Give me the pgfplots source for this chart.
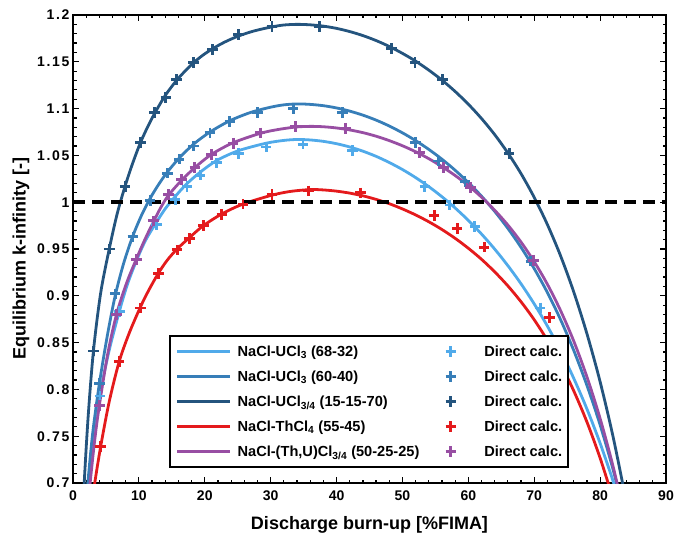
\documentclass[border=0pt]{standalone}
\usepackage{fontspec}
\setmainfont{Liberation Sans}
\newfontfamily\ytickfont[LetterSpace=12]{Liberation Sans}
\usepackage{pgfplots}
\pgfplotsset{compat=1.18}

\definecolor{cL}{RGB}{80,170,234}
\definecolor{cM}{RGB}{55,126,184}
\definecolor{cN}{RGB}{36,84,126}
\definecolor{cR}{RGB}{228,26,28}
\definecolor{cP}{RGB}{152,78,163}

\pgfplotsset{
  fit/.style={line width=2.8pt, no marks, smooth,
    legend image code/.code={\draw[##1] (0pt,0pt) -- (53pt,0pt); \path (59pt,0pt);}},
  calc/.style={only marks, mark=+, mark size=5.3pt, line width=2.9pt,
    legend image code/.code={\path (0pt,0pt) (50pt,0pt); \draw[##1] plot coordinates {(18pt,0pt)};}},
}

\begin{document}
\begin{tikzpicture}
\begin{axis}[
  name=ax,
  width=593pt, height=468pt, scale only axis,
  xmin=0, xmax=90, ymin=0.7, ymax=1.2,
  xtick={0,10,...,90},
  ytick={0.7,0.75,0.8,0.85,0.9,0.95,1,1.05,1.1,1.15,1.2},
  minor x tick num=4, minor y tick num=4,
  tick align=inside,
  major tick length=6pt, minor tick length=3.5pt,
  tick style={black, line width=1.2pt},
  axis line style={line width=1.6pt},
  /pgf/number format/assume math mode=true,
  xticklabel style={font=\fontsize{14}{16}\selectfont\bfseries, yshift=-4pt},
  yticklabel style={font=\fontsize{14}{16}\selectfont\ytickfont\bfseries},
  xlabel={Discharge burn-up [\%FIMA]},
  ylabel={Equilibrium k-infinity [-]},
  xlabel style={font=\fontsize{18}{20}\selectfont\bfseries,
    at={(axis description cs:0.5,0)}, anchor=base, yshift=-46.5pt},
  ylabel style={font=\fontsize{18}{20}\selectfont\bfseries,
    at={(axis description cs:-0.0877,0.48)}, anchor=center},
  legend columns=2,
  legend cell align=left,
  legend style={at={(axis description cs:0.1619,0.032)}, anchor=south west,
    draw=black, line width=1.6pt, inner xsep=6pt, inner ysep=7.5pt,
    row sep=9pt,
    font=\fontsize{14.6}{16}\selectfont\bfseries,
    nodes={inner sep=0pt, text height=13pt, text depth=3pt},
    /tikz/every even column/.append style={column sep=12pt}},
]
% NaCl-UCl3 (68-32)
\addplot[fit, cL] coordinates {
(2.0,0.67) (2.4,0.70) (3.2,0.751) (4.1,0.795) (5.5,0.842) (7.1,0.885) (8.3,0.913)
(9.6,0.937) (11,0.959) (12.7,0.979) (14,0.993) (15.5,1.006) (17.25,1.0195) (19.3,1.032)
(21.8,1.0445) (25.1,1.055) (29.3,1.063) (32,1.066) (34,1.067) (36,1.0665) (38,1.065)
(40,1.0625) (42,1.059) (44,1.0545) (46,1.049) (48,1.0424) (50,1.0349) (52,1.0263)
(54,1.0166) (56,1.0058) (58,0.9938) (60,0.9806) (62,0.966) (64,0.9499) (66,0.9322)
(68,0.9128) (70,0.8913) (72,0.8676) (74,0.8412) (76,0.8118) (78,0.7791) (80,0.7425)
(82,0.7013) (84,0.6553)};
\addlegendentry{NaCl-UCl\textsubscript{3} (68-32)}
\addplot[calc, cL] coordinates {
(4.1,0.793) (7.1,0.883) (9.6,0.939) (12.7,0.976) (15.5,1.003) (17.3,1.017) (19.3,1.029)
(21.8,1.042) (25.1,1.052) (29.3,1.059) (34.9,1.062) (42.4,1.055) (53.4,1.017) (57.2,0.997)
(61.0,0.974) (70.9,0.887)};
\addlegendentry{Direct calc.}
% NaCl-UCl3 (60-40)
\addplot[fit, cM] coordinates {
(1.9,0.67) (2.25,0.70) (3.0,0.754) (4.0,0.806) (5.2,0.857) (6.4,0.900) (7.7,0.935)
(9.06,0.9635) (10.4,0.986) (11.7,1.004) (13,1.019) (14.3,1.032) (16.1,1.047) (18.3,1.062)
(20.8,1.075) (23.8,1.087) (27,1.096) (30,1.1015) (32,1.104) (34,1.105) (36,1.1045)
(38,1.1031) (40,1.1007) (42,1.0973) (44,1.0930) (46,1.0877) (48,1.0814) (50,1.0741)
(52,1.0658) (54,1.0564) (56,1.0459) (58,1.0341) (60,1.0210) (62,1.0064) (64,0.9902)
(66,0.9720) (68,0.9518) (70,0.9290) (72,0.9035) (74,0.8745) (76,0.8416) (78,0.8043)
(80,0.7621) (82,0.7135) (84,0.658)};
\addlegendentry{NaCl-UCl\textsubscript{3} (60-40)}
\addplot[calc, cM] coordinates {
(4.0,0.806) (6.4,0.902) (9.1,0.963) (11.7,1.002) (14.3,1.031) (16.1,1.046) (18.3,1.060)
(20.8,1.074) (23.8,1.086) (28.0,1.096) (33.4,1.100) (40.9,1.096) (52.0,1.064) (55.5,1.044)
(59.5,1.022) (69.5,0.937)};
\addlegendentry{Direct calc.}
% NaCl-UCl3/4 (15-15-70)
\addplot[fit, cN] coordinates {
(1.4,0.653) (1.7,0.700) (2.3,0.771) (3.1,0.841) (4.2,0.903) (5.5,0.950) (6.7,0.9875)
(7.9,1.017) (9,1.0405) (10.2,1.063) (11.3,1.080) (12.4,1.095) (14,1.114) (15.7,1.130)
(17,1.140) (18.3,1.149) (19.7,1.157) (21.2,1.164) (23,1.171) (25.1,1.1775) (27.5,1.1830)
(30.2,1.1873) (32,1.1893) (34,1.190) (36,1.1895) (38,1.1881) (40,1.1857) (42,1.1823)
(44,1.1780) (46,1.1727) (48,1.1664) (50,1.1590) (52,1.1507) (54,1.1411) (56,1.1304)
(58,1.1183) (60,1.1047) (62,1.0894) (64,1.0722) (66,1.0526) (68,1.0305) (70,1.0051)
(72,0.9761) (74,0.9427) (76,0.9041) (78,0.8595) (80,0.8082) (82,0.7484) (84,0.6791)};
\addlegendentry{NaCl-UCl\textsubscript{3/4} (15-15-70)}
\addplot[calc, cN] coordinates {
(3.1,0.841) (5.5,0.950) (7.9,1.017) (10.2,1.064) (12.4,1.096) (14.1,1.112) (15.7,1.131)
(18.3,1.149) (21.2,1.163) (25.1,1.179) (30.2,1.188) (37.4,1.188) (48.3,1.164) (51.9,1.149)
(56.1,1.131) (66.2,1.052)};
\addlegendentry{Direct calc.}
% NaCl-ThCl4 (55-45)
\addplot[fit, cR] coordinates {
(2.8,0.674) (3.3,0.70) (4.2,0.739) (5.5,0.787) (7.0,0.8295) (8.5,0.8596) (10.2,0.8875)
(11.5,0.906) (12.95,0.924) (14.3,0.938) (15.8,0.950) (17.65,0.962) (19.8,0.975)
(22.6,0.9875) (25.8,0.998) (30.2,1.0075) (33,1.0115) (36,1.0135) (38,1.0131) (40,1.0118)
(42,1.0097) (44,1.0068) (46,1.0030) (48,0.9984) (50,0.9928) (52,0.9864) (54,0.9791)
(56,0.9708) (58,0.9614) (60,0.9508) (62,0.9390) (64,0.9256) (66,0.9106) (68,0.8936)
(70,0.8744) (72,0.8524) (74,0.8273) (76,0.7984) (78,0.7652) (80,0.7267) (82,0.6824)};
\addlegendentry{NaCl-ThCl\textsubscript{4} (55-45)}
\addplot[calc, cR] coordinates {
(4.2,0.739) (7.0,0.830) (10.2,0.887) (12.95,0.924) (15.8,0.949) (17.65,0.961) (19.8,0.975)
(22.6,0.987) (25.8,0.998) (30.2,1.008) (35.7,1.012) (43.6,1.010) (54.8,0.986) (58.3,0.972)
(62.4,0.952) (72.3,0.877)};
\addlegendentry{Direct calc.}
% NaCl-(Th,U)Cl3/4 (50-25-25)
\addplot[fit, cP] coordinates {
(2.2,0.668) (2.6,0.70) (3.3,0.746) (4.0,0.783) (5.3,0.839) (6.6,0.880) (8.1,0.913)
(9.6,0.939) (10.9,0.960) (12.2,0.979) (13.3,0.994) (14.5,1.0075) (16.5,1.0235) (18.5,1.037)
(21,1.051) (24.3,1.0635) (28.4,1.0735) (31,1.0775) (33.8,1.0803) (36,1.081) (38,1.0806)
(40,1.0793) (42,1.0772) (44,1.0743) (46,1.0705) (48,1.0658) (50,1.0603) (52,1.0539)
(54,1.0465) (56,1.0380) (58,1.0285) (60,1.0177) (62,1.0054) (64,0.9914) (66,0.9756)
(68,0.9574) (70,0.9364) (72,0.9123) (74,0.8842) (76,0.8516) (78,0.8134) (80,0.7689)
(82,0.7168) (84,0.6556)};
\addlegendentry{NaCl-(Th,U)Cl\textsubscript{3/4} (50-25-25)}
\addplot[calc, cP] coordinates {
(4.0,0.783) (6.6,0.880) (9.6,0.939) (12.2,0.980) (14.5,1.008) (16.5,1.024) (18.5,1.037)
(21.0,1.051) (24.3,1.063) (28.4,1.074) (33.8,1.081) (41.4,1.079) (52.6,1.053) (56.2,1.037)
(60.3,1.016) (69.9,0.938)};
\addlegendentry{Direct calc.}
% criticality line
\addplot[black, line width=3.5pt, dash pattern=on 12pt off 7pt, forget plot]
  coordinates {(0,1) (90,1)};
\end{axis}
\pgfresetboundingbox
\path ([shift={(-73pt,-51pt)}]ax.south west) rectangle ([shift={(9pt,15pt)}]ax.north east);
\end{tikzpicture}
\end{document}
